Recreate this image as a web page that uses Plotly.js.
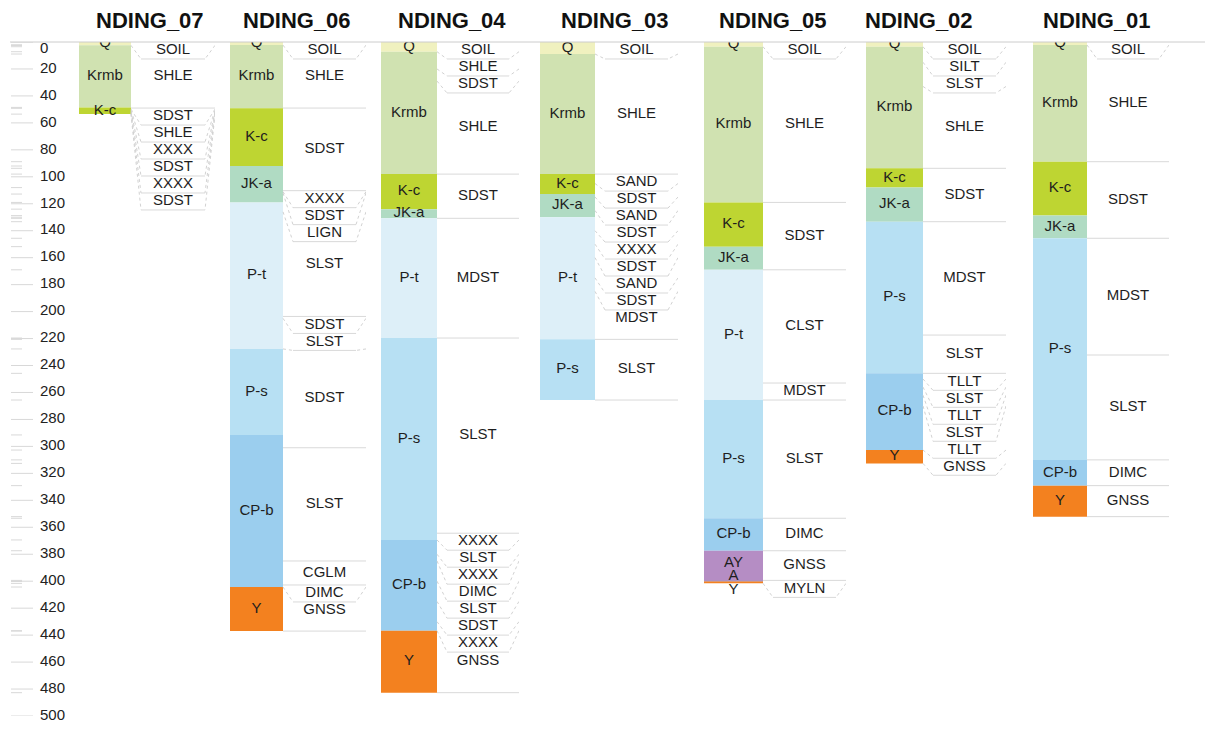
<!DOCTYPE html>
<html><head><meta charset="utf-8">
<script src="https://cdn.plot.ly/plotly-3.0.1.min.js"></script>
<style>body{margin:0;background:#fff}#chart{width:1205px;height:736px}</style>
</head><body><div id="chart"></div>
<script>
// ================= DATA =================
const wells = ['NDING_07','NDING_06','NDING_04','NDING_03','NDING_05','NDING_02','NDING_01'];

// formations (names) and their boundary depths (n+1 values, top to bottom)
const fm07 = ['Q','Krmb','K-c'];
const fmDepth07 = [0, 2.5, 48.5, 53.5];
const fm06 = ['Q','Krmb','K-c','JK-a','P-t','P-s','CP-b','Y'];
const fmDepth06 = [0, 2.3, 49.2, 92, 119, 227.7, 291.5, 404.3, 437];
const fm04 = ['Q','Krmb','K-c','JK-a','P-t','P-s','CP-b','Y'];
const fmDepth04 = [0, 7.2, 98, 124, 130.8, 219.6, 369.4, 436.7, 482.7];
const fm03 = ['Q','Krmb','K-c','JK-a','P-t','P-s'];
const fmDepth03 = [0, 8.9, 98, 112.8, 130, 220.6, 265.6];
const fm05 = ['Q','Krmb','K-c','JK-a','P-t','P-s','CP-b','AY','A','Y'];
const fmDepth05 = [0, 3.5, 119, 151.8, 169, 265.6, 353.3, 377.4, 399.4, 400.2, 401.6];
const fm02 = ['Q','Krmb','K-c','JK-a','P-s','CP-b','Y'];
const fmDepth02 = [0, 3.5, 93.7, 108, 133.3, 245.8, 302.7, 312.6];
const fm01 = ['Q','Krmb','K-c','JK-a','P-s','CP-b','Y'];
const fmDepth01 = [0, 2.2, 88.8, 128.8, 145.6, 310, 329.1, 352.1];

// lithology (names) and boundary depths
const lith07 = ['SOIL','SHLE','SDST','SHLE','XXXX','SDST','XXXX','SDST'];
const lithDepth07 = [0, 2.5, 49, 49.8, 50.6, 51.4, 52.2, 53, 53.5];
const lith06 = ['SOIL','SHLE','SDST','XXXX','SDST','LIGN','SLST','SDST','SLST','SDST','SLST','CGLM','DIMC','GNSS'];
const lithDepth06 = [0, 2.3, 49, 110.3, 111, 112, 126, 203.6, 205, 227.7, 301, 385, 402.8, 404.3, 437];
const lith04 = ['SOIL','SHLE','SDST','SHLE','SDST','MDST','SLST','XXXX','SLST','XXXX','DIMC','SLST','SDST','XXXX','GNSS'];
const lithDepth04 = [0, 7.2, 20, 29, 98, 130.8, 219.6, 364.4, 369.4, 380, 385, 400, 415, 430, 436.7, 482.7];
const lith03 = ['SOIL','SHLE','SAND','SDST','SAND','SDST','XXXX','SDST','SAND','SDST','MDST','SLST'];
const lithDepth03 = [0, 8.9, 98, 105, 115, 125, 140, 150, 160, 175, 185, 220.6, 265.6];
const lith05 = ['SOIL','SHLE','SDST','CLST','MDST','SLST','DIMC','GNSS','MYLN'];
const lithDepth05 = [0, 3.5, 119, 169, 253, 265.6, 353.3, 377.4, 399.4, 401.6];
const lith02 = ['SOIL','SILT','SLST','SHLE','SDST','MDST','SLST','TLLT','SLST','TLLT','SLST','TLLT','GNSS'];
const lithDepth02 = [0, 3.5, 15, 33, 93.7, 133.3, 217.4, 245.8, 250, 256, 262, 270, 302.7, 312.6];
const lith01 = ['SOIL','SHLE','SDST','MDST','SLST','DIMC','GNSS'];
const lithDepth01 = [0, 2.2, 88.8, 145.6, 232.2, 310, 329.1, 352.1];

// depth axis tick labels
const depthTicks = [0,20,40,60,80,100,120,140,160,180,200,220,240,260,280,300,320,340,360,380,400,420,440,460,480,500];

// ================= STYLE / LAYOUT CONFIG =================
const fmColors = {
  'Q':'#f0f1bf','Krmb':'#d0e2b1','K-c':'#bed532','JK-a':'#b0dbc3','P-t':'#ddeff8',
  'P-s':'#b7e0f3','CP-b':'#9bceee','Y':'#f3811f','AY':'#b58dc4','A':'#7b5fa3'
};
const W = 1205, Hpx = 736, TOP = 42, BOT = 20;
const colLeft  = [79, 230, 381, 540, 704, 866, 1033];   // px, left edge of formation column
const fmWidth  = [52, 53, 56, 55, 59, 57, 54];
const lithWidth= [84, 83, 82, 83, 83, 83, 82];
const titleX   = [150, 297, 452, 615, 773, 919, 1097];
const SLOT = 12.6;   // label slot height (depth units)
const FSP = 10;      // min spacing of formation labels
const INSET = 10;
const FONT = 'Liberation Sans, Arial, sans-serif';
const lineCol = '#d9d9d9';

const fmSets = [[fm07,fmDepth07],[fm06,fmDepth06],[fm04,fmDepth04],[fm03,fmDepth03],[fm05,fmDepth05],[fm02,fmDepth02],[fm01,fmDepth01]];
const lithSets = [[lith07,lithDepth07],[lith06,lithDepth06],[lith04,lithDepth04],[lith03,lithDepth03],[lith05,lithDepth05],[lith02,lithDepth02],[lith01,lithDepth01]];

function layoutLith(names, d){
  const out=[]; let prev=-Infinity;
  for(let i=0;i<names.length;i++){
    const a0=d[i], a1=d[i+1];
    const top=Math.max(a0, prev);
    const c=Math.max((a0+a1)/2, top+SLOT/2);
    const bot=Math.max(a1, c+SLOT/2);
    out.push({name:names[i], a0, a1, top, c, bot});
    prev=bot;
  }
  return out;
}
function spread(cs, h){
  const blocks=[];
  cs.forEach((c,i)=>{
    blocks.push({start:i, n:1, sum:c});
    while(blocks.length>1){
      const b=blocks[blocks.length-1], p=blocks[blocks.length-2];
      if(b.sum/b.n < p.sum/p.n + p.n*h){
        p.sum += b.sum - b.n*p.n*h; p.n += b.n; blocks.pop();
      } else break;
    }
  });
  const pos=[];
  blocks.forEach(b=>{const f=b.sum/b.n; for(let k=0;k<b.n;k++) pos.push(f+k*h);});
  return pos;
}

const traces=[]; const layout={
  width:W, height:Hpx, margin:{l:0,r:0,t:TOP,b:BOT,pad:0},
  paper_bgcolor:'#fff', plot_bgcolor:'#fff', showlegend:false, barmode:'overlay',
  yaxis:{range:[500,0], visible:false, fixedrange:true, domain:[0,1]},
  annotations:[], shapes:[]
};

wells.forEach((w,i)=>{
  const ax = 'x'+(i+1), axKey='xaxis'+(i+1);
  const fW=fmWidth[i], lW=lithWidth[i], tot=fW+lW;
  layout[axKey]={domain:[colLeft[i]/W, (colLeft[i]+tot)/W], range:[0,tot], visible:false, fixedrange:true, anchor:'y'};
  const [fn, fd] = fmSets[i];
  const tops=fn.map((_,k)=>fd[k]), thick=fn.map((_,k)=>fd[k+1]-fd[k]);
  traces.push({type:'bar', xaxis:ax, yaxis:'y', x:fn.map(()=>fW/2), y:thick, base:tops, width:fn.map(()=>fW),
    marker:{color:fn.map(n=>fmColors[n]), line:{width:0}}, hoverinfo:'skip'});
  const fc = spread(fn.map((_,k)=>(fd[k]+fd[k+1])/2), FSP);
  traces.push({type:'scatter', mode:'text', xaxis:ax, yaxis:'y', x:fn.map(()=>fW/2), y:fc, text:fn,
    textposition:'middle center', textfont:{family:FONT, size:15, color:'#1e1e1e'}, hoverinfo:'skip'});

  const [ln, ld] = lithSets[i];
  const L = layoutLith(ln, ld);
  const sx=[], sy=[], dx=[], dy=[];
  L.forEach(o=>{
    const a=o.a1, s=o.bot;
    if(Math.abs(a-s)<0.5){ sx.push(fW, tot, null); sy.push(a, a, null); }
    else {
      sx.push(fW+INSET, tot-INSET, null); sy.push(s, s, null);
      dx.push(fW, fW+INSET, null, tot, tot-INSET, null); dy.push(a, s, null, a, s, null);
    }
  });
  traces.push({type:'scatter', mode:'lines', xaxis:ax, yaxis:'y', x:sx, y:sy, line:{color:lineCol, width:1}, hoverinfo:'skip', cliponaxis:false});
  traces.push({type:'scatter', mode:'lines', xaxis:ax, yaxis:'y', x:dx, y:dy, line:{color:'#d2d2d2', width:1, dash:'dot'}, hoverinfo:'skip', cliponaxis:false});
  traces.push({type:'scatter', mode:'text', xaxis:ax, yaxis:'y', x:L.map(()=>fW+lW/2), y:L.map(o=>o.c), text:L.map(o=>o.name),
    textposition:'middle center', textfont:{family:FONT, size:15, color:'#1e1e1e'}, hoverinfo:'skip'});

  layout.annotations.push({text:'<b>'+w+'</b>', xref:'paper', yref:'paper', x:titleX[i]/W, y:(Hpx-BOT-20)/(Hpx-TOP-BOT),
    xanchor:'center', yanchor:'middle', showarrow:false, font:{family:FONT, size:22, color:'#111'}});
});

// depth scale on the left
const axT='x8';
layout.xaxis8={domain:[0,72/W], range:[0,72], visible:false, fixedrange:true, anchor:'y'};
const minor = [...new Set(fmSets.flatMap(s=>s[1]))].filter(v=>v>0 && v<500);
const tx=[], ty=[];
depthTicks.forEach(t=>{tx.push(11,33,null); ty.push(t,t,null);});
minor.forEach(t=>{tx.push(11,22,null); ty.push(t,t,null);});
traces.push({type:'scatter', mode:'lines', xaxis:axT, yaxis:'y', x:tx, y:ty, line:{color:'#d8d8d8', width:1}, hoverinfo:'skip', cliponaxis:false});
traces.push({type:'scatter', mode:'text', xaxis:axT, yaxis:'y', x:depthTicks.map(()=>40), y:depthTicks, text:depthTicks.map(String),
  textposition:depthTicks.map(t=>t===0?'bottom right':'middle right'), textfont:{family:FONT, size:15, color:'#222'}, hoverinfo:'skip', cliponaxis:false});

layout.shapes.push({type:'line', xref:'paper', yref:'paper', x0:10/W, x1:1, y0:1, y1:1, line:{color:'#cccccc', width:1}});

Plotly.newPlot('chart', traces, layout, {displayModeBar:false, staticPlot:true});
</script></body></html>
